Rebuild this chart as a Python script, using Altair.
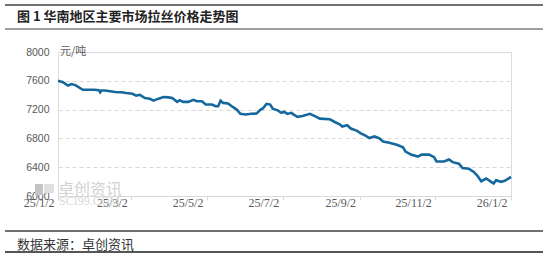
import altair as alt
import pandas as pd

# ---- data ----
dates = [
    "2025-01-02", "2025-01-06", "2025-01-10", "2025-01-13", "2025-01-16", "2025-01-22",
    "2025-01-31", "2025-02-04", "2025-02-05", "2025-02-06", "2025-02-09", "2025-02-17",
    "2025-02-22", "2025-02-26", "2025-03-03", "2025-03-06", "2025-03-09", "2025-03-13",
    "2025-03-17", "2025-03-20", "2025-03-24", "2025-03-28", "2025-04-01", "2025-04-04",
    "2025-04-08", "2025-04-10", "2025-04-13", "2025-04-17", "2025-04-21", "2025-04-24",
    "2025-04-28", "2025-05-01", "2025-05-06", "2025-05-09", "2025-05-11", "2025-05-13",
    "2025-05-15", "2025-05-19", "2025-05-22", "2025-05-26", "2025-05-29", "2025-06-02",
    "2025-06-07", "2025-06-11", "2025-06-14", "2025-06-16", "2025-06-19", "2025-06-22",
    "2025-06-24", "2025-06-28", "2025-07-01", "2025-07-03", "2025-07-06", "2025-07-09",
    "2025-07-11", "2025-07-14", "2025-07-18", "2025-07-24", "2025-07-28", "2025-08-01",
    "2025-08-09", "2025-08-13", "2025-08-17", "2025-08-19", "2025-08-23", "2025-08-26",
    "2025-08-31", "2025-09-03", "2025-09-06", "2025-09-10", "2025-09-14", "2025-09-18",
    "2025-09-21", "2025-09-26", "2025-10-02", "2025-10-07", "2025-10-09", "2025-10-14",
    "2025-10-19", "2025-10-22", "2025-10-28", "2025-11-01", "2025-11-03", "2025-11-09",
    "2025-11-13", "2025-11-16", "2025-11-21", "2025-11-24", "2025-11-29", "2025-12-03",
    "2025-12-06", "2025-12-09", "2025-12-13", "2025-12-17", "2025-12-19", "2025-12-21",
    "2025-12-25", "2025-12-28", "2026-01-02",
]
prices = [
    7600, 7580, 7535, 7555, 7540, 7475,
    7475, 7470, 7440, 7465, 7465, 7445,
    7440, 7430, 7420, 7395, 7405, 7360,
    7350, 7325, 7352, 7375, 7370, 7360,
    7307, 7330, 7307, 7307, 7335, 7315,
    7315, 7270, 7270, 7247, 7247, 7325,
    7293, 7285, 7247, 7200, 7142, 7133,
    7142, 7145, 7197, 7215, 7280, 7270,
    7212, 7190, 7155, 7170, 7140, 7155,
    7130, 7100, 7110, 7142, 7110, 7075,
    7065, 7028, 6995, 6965, 6982, 6937,
    6905, 6870, 6845, 6805, 6827, 6800,
    6755, 6740, 6712, 6677, 6617, 6572,
    6548, 6575, 6575, 6540, 6480, 6480,
    6507, 6470, 6448, 6388, 6380, 6335,
    6280, 6205, 6243, 6197, 6175, 6220,
    6197, 6210, 6265,
]
tick_dates = ["2025-01-02", "2025-03-02", "2025-05-02", "2025-07-02",
              "2025-09-02", "2025-11-02", "2026-01-02"]
tick_labels = ["25/1/2", "25/3/2", "25/5/2", "25/7/2", "25/9/2", "25/11/2", "26/1/2"]
y_ticks = [6000, 6400, 6800, 7200, 7600, 8000]

title_text = "图 1  华南地区主要市场拉丝价格走势图"
source_text = "数据来源：卓创资讯"
unit_text = "元/吨"

# ---- derived tables ----
start = pd.Timestamp(dates[0])
df = pd.DataFrame({"date": pd.to_datetime(dates), "price": prices})
df["day"] = (df["date"] - start).dt.days
tick_days = [int((pd.Timestamp(d) - start).days) for d in tick_dates]
end_day = tick_days[-1]

label_expr = "''"
for d, l in reversed(list(zip(tick_days, tick_labels))):
    label_expr = f"datum.value == {d} ? '{l}' : ({label_expr})"

W, H = 453, 144
GREY = "#595959"

x_enc = alt.X("day:Q", scale=alt.Scale(domain=[0, end_day], nice=False, zero=False),
              axis=alt.Axis(values=tick_days, labelExpr=label_expr, title=None,
                            grid=False, domainColor="#d9d9d9", tickColor="#d9d9d9",
                            tickSize=4, labelPadding=-3, labelAlign="right",
                            labelOffset=-4, labelFont="Liberation Serif",
                            labelFontSize=12, labelColor=GREY, labelFlush=False))
y_enc = alt.Y("price:Q", scale=alt.Scale(domain=[6000, 8000], nice=False, zero=False),
              axis=alt.Axis(values=y_ticks, format="d", title=None, domain=False, ticks=False,
                            grid=True, gridColor="#d9d9d9", gridDash=[4, 3],
                            labelFont="Liberation Sans", labelFontSize=10.5,
                            labelColor=GREY, labelPadding=9))

line = alt.Chart(df).mark_line(color="#15689e", strokeWidth=2.6).encode(x=x_enc, y=y_enc)


def txt(s, x, y, **kw):
    return alt.Chart(pd.DataFrame({"t": [s]})).mark_text(**kw).encode(
        text="t:N", x=alt.value(x), y=alt.value(y))


def hrule(y, w, color="#404040"):
    return alt.Chart(pd.DataFrame({"t": [0]})).mark_rule(color=color, strokeWidth=w).encode(
        x=alt.value(-53), x2=alt.value(485), y=alt.value(y))


title = txt(title_text, -41, -35, align="left", baseline="middle",
            font="Noto Sans CJK SC", fontSize=13, fontWeight="bold", color="#222222")
source = txt(source_text, -41, 193, align="left", baseline="middle",
             font="Noto Sans CJK SC", fontSize=13, color="#333333")
unit = txt(unit_text, 2, 0, align="left", baseline="middle",
           font="Noto Sans CJK SC", fontSize=11, color=GREY)
wm1 = txt("卓创资讯", 0, 138, align="left", baseline="middle",
          font="Noto Sans CJK SC", fontSize=16, color="#d2d2d2")
wm2 = txt("SCI99.COM", 1, 149, align="left", baseline="middle",
          font="Liberation Serif", fontSize=12, color="#d8d8d8")
icon = alt.Chart(pd.DataFrame({"t": [0]})).mark_rect(color="#c4c4c4").encode(
    x=alt.value(-23), x2=alt.value(-15), y=alt.value(132), y2=alt.value(143))
icon2 = alt.Chart(pd.DataFrame({"t": [0]})).mark_rect(color="#e0e0e0").encode(
    x=alt.value(-14), x2=alt.value(-4), y=alt.value(132), y2=alt.value(141))

chart = alt.layer(
    icon, icon2, wm1, wm2, line, unit, title, source,
    hrule(-47, 1.5), hrule(-23, 1.0), hrule(179, 1.5), hrule(200, 2.0, "#555555"),
).properties(
    width=W, height=H,
    autosize=alt.AutoSizeParams(type="none"),
    padding={"left": 58, "top": 52, "right": 39, "bottom": 62},
).configure_view(stroke=None).configure(background="white")

chart.save("out.html", embed_options={"renderer": "svg", "actions": False})
